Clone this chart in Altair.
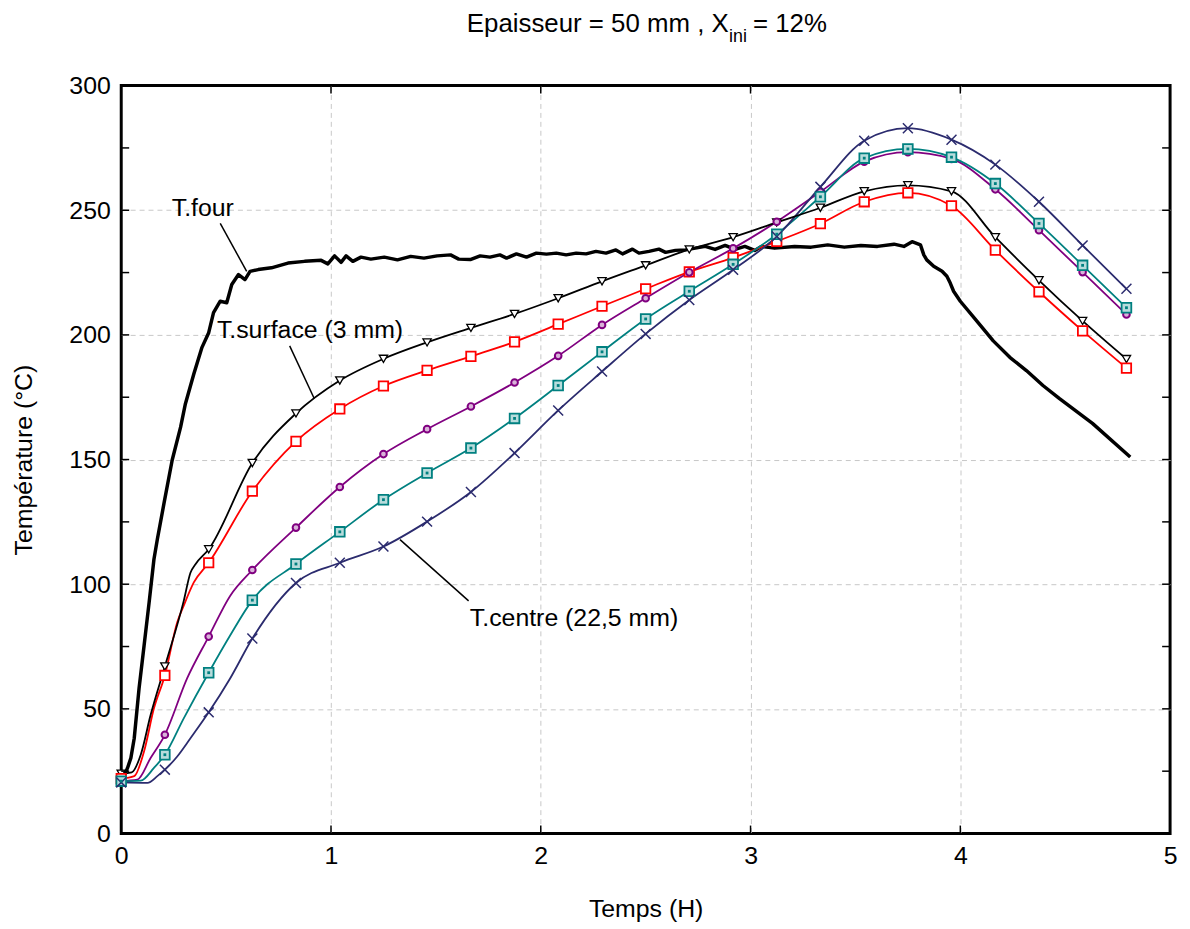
import altair as alt
import pandas as pd

FONT = "Liberation Sans, Arial, sans-serif"

# ---------------- data ----------------
# time of the marker points (H)
x_marks = [0, 0.208, 0.417, 0.625, 0.833, 1.042, 1.25, 1.458, 1.667, 1.875,
           2.083, 2.292, 2.5, 2.708, 2.917, 3.125, 3.333, 3.542, 3.75, 3.958,
           4.167, 4.375, 4.583, 4.792]

surface_vals = [24, 67, 114, 148.6, 168.5, 181.7, 190.4, 197, 202.8, 208.4, 214.7, 221.5,
                227.9, 234.3, 239.2, 245.1, 251, 257.6, 260, 257.6, 239.2, 221.9, 205.6, 190.3]
red_vals = [22, 63.4, 108.6, 137.3, 157.3, 170.3, 179.5, 185.8, 191.4, 197.2, 204.3, 211.5,
            218.5, 225.3, 231, 237.5, 244.6, 253.4, 257, 251.8, 234, 217.3, 201.6, 186.7]
purple_vals = [21, 39.6, 79, 105.7, 122.7, 139, 152.2, 162.2, 171.3, 180.9, 191.6, 204,
               214.7, 225.1, 234.7, 245.4, 257.4, 269.5, 273.3, 270.6, 258.4, 242, 225.2, 208.2]
teal_vals = [21, 31.6, 64.5, 93.6, 108.1, 121, 133.9, 144.6, 154.6, 166.5, 179.7, 193.2,
             206.4, 217.5, 228.3, 240.4, 255.4, 270.9, 274.6, 271.3, 260.7, 244.7, 227.9, 210.9]
centre_vals = [20.5, 25.6, 48.6, 78.2, 100.5, 108.6, 115.1, 125.1, 137, 152.6, 169.7, 185.3,
               200.4, 214, 226.1, 239.5, 259.4, 277.9, 282.9, 278.3, 268.3, 253.4, 235.9, 218.5]

# extra points read between the markers (curve only)
surface_extra_t = [0.05, 0.093, 0.14, 0.298, 0.33, 0.354]
surface_extra_v = [24.5, 31.6, 47.5, 93.3, 104.6, 108]
red_extra_t = [0.062, 0.109, 0.156, 0.267, 0.298, 0.346]
red_extra_v = [23, 33, 50.2, 84.7, 91.4, 100.7]
purple_extra_t = [0.077, 0.14, 0.314, 0.519]
purple_extra_v = [21.6, 30.3, 62.2, 95.3]
teal_extra_t = [0.093, 0.156, 0.298, 0.519]
teal_extra_v = [21.2, 26.3, 46.2, 79.4]
centre_extra_t = [0.125, 0.172, 0.267, 0.33, 0.519]
centre_extra_v = [20.3, 23, 30.9, 38.2, 62.2]

# oven temperature (T.four)
four_t = [0, 0.014, 0.03, 0.046, 0.062, 0.085, 0.109, 0.133, 0.156, 0.172, 0.204, 0.243,
          0.283, 0.306, 0.346, 0.385, 0.417, 0.44, 0.472, 0.503, 0.527, 0.559, 0.59, 0.614,
          0.653, 0.716, 0.795, 0.874, 0.953, 0.985, 1.017, 1.048, 1.072, 1.104, 1.143, 1.19,
          1.254, 1.317, 1.38, 1.443, 1.506, 1.57, 1.609, 1.664, 1.711, 1.758, 1.805, 1.837,
          1.884, 1.932, 1.979, 2.027, 2.074, 2.121, 2.169, 2.216, 2.263, 2.311, 2.358, 2.39,
          2.437, 2.468, 2.516, 2.563, 2.595, 2.642, 2.69, 2.737, 2.784, 2.831, 2.879, 2.926,
          2.973, 3.02, 3.052, 3.115, 3.21, 3.289, 3.368, 3.447, 3.526, 3.605, 3.684, 3.731,
          3.77, 3.81, 3.826, 3.84, 3.873, 3.913, 3.936, 3.952, 3.968, 4.0, 4.078, 4.157,
          4.236, 4.315, 4.394, 4.473, 4.63, 4.81]
four_v = [22, 23, 26.3, 30.3, 38.2, 58.2, 75.4, 92.7, 110, 117.9, 132.5, 149.8,
          163, 172.4, 184.3, 195, 200.9, 208.9, 213.5, 212.9, 220.2, 224.2, 222.2, 225.5,
          226.2, 226.9, 228.8, 229.5, 229.9, 228.5, 231.7, 229.1, 231.7, 229.5, 231.2, 230.4,
          231.2, 230.1, 231.5, 230.8, 231.7, 232.1, 230.4, 230.2, 231.7, 231.2, 232.1, 230.8,
          232.5, 231.2, 232.8, 232.4, 232.8, 232.1, 232.8, 232.5, 233.5, 232.8, 234.1, 232.5,
          234.4, 232.8, 233.5, 234.4, 233.1, 233.9, 234.1, 234.8, 235.5, 234.3, 235.9, 234.3,
          235.5, 233.9, 235.5, 234.8, 235.5, 235.2, 236.1, 235.2, 235.9, 235.5, 236.4, 235.5,
          237.4, 236.1, 232.1, 230.1, 227.5, 225.5, 223.5, 220.8, 217.5, 213.5, 205.6, 197.6,
          191, 185.7, 179.7, 174.4, 164.5, 151]

series_names = ["T.surface (3 mm)", "T.2", "T.3", "T.4", "T.centre (22,5 mm)"]
series_colors = ["#000000", "#ff0000", "#800080", "#008080", "#2b2b6e"]
series_vals = [surface_vals, red_vals, purple_vals, teal_vals, centre_vals]
series_extra_t = [surface_extra_t, red_extra_t, purple_extra_t, teal_extra_t, centre_extra_t]
series_extra_v = [surface_extra_v, red_extra_v, purple_extra_v, teal_extra_v, centre_extra_v]

# axes
x_ticks = [0, 1, 2, 3, 4, 5]
y_ticks = [0, 50, 100, 150, 200, 250, 300]
x_inner_ticks = [1, 2, 3, 4]
y_inner_ticks = [25, 50, 75, 100, 125, 150, 175, 200, 225, 250, 275]

# annotations
ann_text = ["T.four", "T.surface (3 mm)", "T.centre (22,5 mm)"]
ann_t = [0.241, 0.456, 1.662]
ann_temp = [247.8, 198.9, 83.4]
lead_t = [0.472, 0.803, 1.329]
lead_temp = [244.7, 195.6, 117.9]
lead_t2 = [0.598, 0.92, 1.656]
lead_temp2 = [225.5, 174.5, 93.3]

title_main = "Epaisseur = 50 mm , X"
title_sub = "ini"
title_end = "= 12%"

# ---------------- build tables ----------------
W, H = 1056, 753

rows = []
for name, vals, et, ev in zip(series_names, series_vals, series_extra_t, series_extra_v):
    for t, v in zip(x_marks, vals):
        rows.append({"series": name, "t": t, "temp": v, "marker": True})
    for t, v in zip(et, ev):
        rows.append({"series": name, "t": t, "temp": v, "marker": False})
df = pd.DataFrame(rows).sort_values(["series", "t"])

four_df = pd.DataFrame({"t": four_t, "temp": four_v})

X = alt.X("t:Q", scale=alt.Scale(domain=[0, 5], nice=False, zero=False),
          axis=alt.Axis(values=x_ticks, format="d", title="Temps (H)", labelFlush=False,
                        labelPadding=10, titlePadding=29,
                        gridOpacity={"condition": {"test": "datum.value == 0 || datum.value == 5",
                                                   "value": 0}, "value": 1}))
Y = alt.Y("temp:Q", scale=alt.Scale(domain=[0, 300], nice=False),
          axis=alt.Axis(values=y_ticks, format="d", title="Température (°C)",
                        labelPadding=11, titlePadding=33,
                        gridOpacity={"condition": {"test": "datum.value == 0 || datum.value == 300",
                                                   "value": 0}, "value": 1}))

color_scale = alt.Scale(domain=series_names, range=series_colors)

four_line = alt.Chart(four_df).mark_line(color="black", strokeWidth=3.5,
                                         strokeJoin="round").encode(x=X, y=Y)

curves = alt.Chart(df).mark_line(interpolate="monotone", strokeWidth=1.8).encode(
    x=X, y=Y, color=alt.Color("series:N", scale=color_scale, legend=None),
    detail="series:N")

marker_styles = {
    "T.surface (3 mm)": dict(shape="triangle-down", size=70, fill="white", strokeWidth=1.3),
    "T.2": dict(shape="square", size=90, fill="white", strokeWidth=1.8),
    "T.3": dict(shape="circle", size=45, fill="#d9b3d9", strokeWidth=2),
    "T.4": dict(shape="square", size=95, fill="#b8dcdc", strokeWidth=1.8),
    "T.centre (22,5 mm)": dict(shape="M-1,-1L1,1M-1,1L1,-1", size=100, fill="transparent",
                               strokeWidth=1.5),
}

point_layers = []
for name, col in zip(series_names, series_colors):
    st = marker_styles[name]
    point_layers.append(
        alt.Chart(df).transform_filter(
            (alt.datum.series == name) & (alt.datum.marker == True)
        ).mark_point(shape=st["shape"], size=st["size"], filled=True, fill=st["fill"],
                     stroke=col, strokeWidth=st["strokeWidth"], opacity=1).encode(x=X, y=Y)
    )
# central dot of the teal squares
point_layers.append(
    alt.Chart(df).transform_filter(
        (alt.datum.series == "T.4") & (alt.datum.marker == True)
    ).mark_point(shape="square", size=8, filled=True, color="#008080", opacity=1).encode(x=X, y=Y)
)

ann_df = pd.DataFrame({"label": ann_text, "t": ann_t, "temp": ann_temp})
ann_labels = alt.Chart(ann_df).mark_text(align="left", baseline="alphabetic", fontSize=25,
                                         font=FONT, color="black").encode(
    x=X, y=Y, text="label:N")

lead_rows = []
for i, (a, b, c, d) in enumerate(zip(lead_t, lead_temp, lead_t2, lead_temp2)):
    lead_rows.append({"id": i, "t": a, "temp": b})
    lead_rows.append({"id": i, "t": c, "temp": d})
lead_df = pd.DataFrame(lead_rows)
ann_lines = alt.Chart(lead_df).mark_line(color="black", strokeWidth=1.5).encode(
    x=X, y=Y, detail="id:N")

# inward ticks on the frame
xt_df = pd.DataFrame({"t": x_inner_ticks})
yt_df = pd.DataFrame({"temp": y_inner_ticks})
tick_bottom = alt.Chart(xt_df).mark_rule(color="black", strokeWidth=1.5).encode(
    x=X, y=alt.value(H), y2=alt.value(H - 8))
tick_top = alt.Chart(xt_df).mark_rule(color="black", strokeWidth=1.5).encode(
    x=X, y=alt.value(0), y2=alt.value(8))
tick_left = alt.Chart(yt_df).mark_rule(color="black", strokeWidth=1.5).encode(
    y=Y, x=alt.value(0), x2=alt.value(8))
tick_right = alt.Chart(yt_df).mark_rule(color="black", strokeWidth=1.5).encode(
    y=Y, x=alt.value(W), x2=alt.value(W - 8))

# title with subscript, as text pieces
title_df = pd.DataFrame({"main": [title_main], "sub": [title_sub], "end": [title_end]})
t1 = alt.Chart(title_df).mark_text(align="left", baseline="alphabetic", fontSize=26,
                                   font=FONT, color="black").encode(
    x=alt.value(348), y=alt.value(-54), text="main:N")
t2 = alt.Chart(title_df).mark_text(align="left", baseline="alphabetic", fontSize=18,
                                   font=FONT, color="black").encode(
    x=alt.value(612), y=alt.value(-44), text="sub:N")
t3 = alt.Chart(title_df).mark_text(align="left", baseline="alphabetic", fontSize=26,
                                   font=FONT, color="black").encode(
    x=alt.value(636), y=alt.value(-54), text="end:N")

chart = alt.layer(
    four_line, curves, *point_layers, ann_lines, ann_labels,
    tick_bottom, tick_top, tick_left, tick_right, t1, t2, t3
).properties(
    width=W, height=H,
    autosize=alt.AutoSizeParams(type="none"),
    padding={"left": 114, "top": 75, "right": 12, "bottom": 90},
).configure_view(
    stroke="black", strokeWidth=3
).configure_axis(
    domain=False, ticks=False, grid=True, gridColor="#c8c8c8", gridDash=[5, 4],
    gridWidth=1, labelFont=FONT, labelFontSize=25, labelColor="black",
    titleFont=FONT, titleFontSize=25, titleFontWeight="normal", titleColor="black"
)

chart.save("out.html", embed_options={"renderer": "svg", "actions": False})
